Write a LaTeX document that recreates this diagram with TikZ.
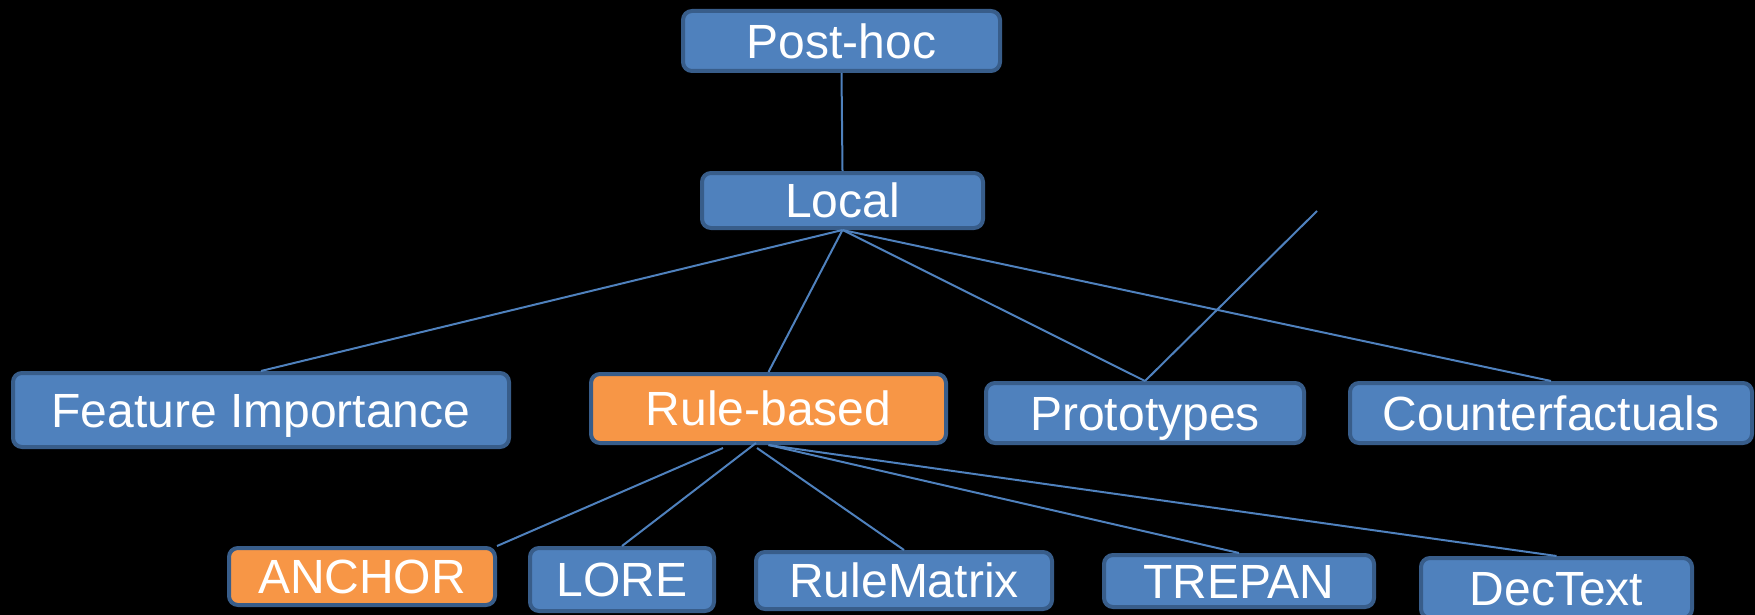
\documentclass[tikz,border=0pt]{standalone}
\usepackage{fontspec}
\setmainfont{Liberation Sans}
\definecolor{boxblue}{HTML}{4F81BD}
\definecolor{boxedge}{HTML}{385D8A}
\definecolor{boxorange}{HTML}{F79646}
\definecolor{linkblue}{HTML}{4F81BD}
\begin{document}
\begin{tikzpicture}[x=1pt,y=-1pt,
  box/.style={draw=boxedge, line width=4pt, fill=boxblue, rounded corners=9pt,
    text=white, inner sep=0pt, font=\fontsize{48}{57}\selectfont,
    text height=34.3pt, text depth=0pt},
  hot/.style={box, fill=boxorange},
  link/.style={draw=linkblue, line width=2pt}]
  % canvas
  \fill[black] (0,0) rectangle (1755,615);
  \useasboundingbox (0,0) rectangle (1755,615);
  \clip (0,0) rectangle (1755,615);

  % top levels
  \node[box, minimum width=317pt, minimum height=60pt] (posthoc) at (841.5,41) {Post-hoc};
  \node[box, minimum width=281pt, minimum height=55pt] (local) at (842.5,200.5) {Local};

  % second level
  \node[box, minimum width=496pt, minimum height=74pt] (fi) at (261,410) {Feature Importance};
  \node[hot, minimum width=355pt, minimum height=69pt] (rb) at (768.5,408.5) {Rule-based};
  \node[box, minimum width=318pt, minimum height=60pt] (proto) at (1145,413) {Prototypes};
  \node[box, minimum width=402pt, minimum height=60pt] (cf) at (1551,413) {Counterfactuals};

  % rule-based methods
  \node[hot, minimum width=266pt, minimum height=57pt] (anchor) at (362,576.5) {ANCHOR};
  \node[box, minimum width=184pt, minimum height=63pt] (lore) at (622,579.5) {LORE};
  \node[box, minimum width=296pt, minimum height=57pt] (rm) at (904,580.5) {RuleMatrix};
  \node[box, minimum width=270pt, minimum height=52pt] (trepan) at (1239,581) {TREPAN};
  \node[box, minimum width=271pt, minimum height=60pt] (dectext) at (1556.5,588) {DecText};

  % connector end points
  \coordinate (loose) at (1317,211);
  \coordinate (rbA) at (723,448);
  \coordinate (rbL) at (756,443);
  \coordinate (rbM) at (757,448);

  % connectors
  \draw[link] (posthoc.south) -- (local.north);
  \draw[link] (local.south) -- (fi.north);
  \draw[link] (local.south) -- (rb.north);
  \draw[link] (local.south) -- (proto.north);
  \draw[link] (local.south) -- (cf.north);
  \draw[link] (loose) -- (proto.north);
  \draw[link] (rbA) -- (anchor.north east);
  \draw[link] (rbL) -- (lore.north);
  \draw[link] (rbM) -- (rm.north);
  \draw[link] (rb.south) -- (trepan.north);
  \draw[link] (rb.south) -- (dectext.north);
\end{tikzpicture}
\end{document}
